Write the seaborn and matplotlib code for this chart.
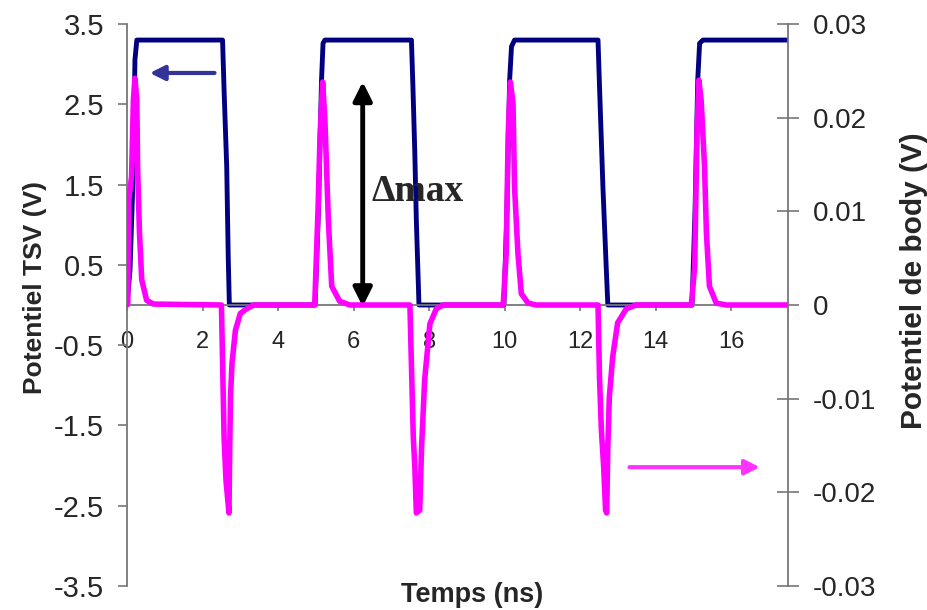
import matplotlib
matplotlib.use("Agg")
from matplotlib import pyplot as plt
import seaborn as sns
import pandas as pd

# TSV potential (left axis, V) vs time (ns)
tsv_time = [0.00, 0.08, 0.17, 0.21, 0.26, 2.53, 2.57, 2.64, 2.68, 2.71,
            4.98, 5.07, 5.15, 5.19, 5.24, 7.53, 7.57, 7.62, 7.66, 7.73,
            9.98, 10.06, 10.13, 10.18, 10.26, 12.47, 12.51, 12.60, 12.69, 12.73,
            14.96, 15.04, 15.11, 15.16, 15.25, 17.50]
tsv_volt = [0.00, 0.44, 1.72, 3.05, 3.30, 3.30, 2.68, 1.72, 0.60, 0.00,
            0.00, 1.20, 2.80, 3.26, 3.30, 3.30, 2.72, 1.89, 1.06, 0.00,
            0.00, 1.20, 2.80, 3.22, 3.30, 3.30, 2.72, 1.47, 0.44, 0.00,
            0.00, 1.20, 2.80, 3.26, 3.30, 3.30]

# body potential (right axis, V)
body_time = [0.00, 0.02, 0.04, 0.12, 0.17, 0.21, 0.26, 0.28, 0.33, 0.39, 0.52, 0.70,
             2.50, 2.57, 2.62, 2.70, 2.72, 2.74, 2.78, 2.87, 3.00, 3.17, 3.35,
             4.97, 5.06, 5.11, 5.18, 5.24, 5.33, 5.42, 5.63, 5.90,
             7.49, 7.58, 7.62, 7.66, 7.75, 7.80, 7.88, 8.02, 8.19, 8.37,
             9.96, 10.04, 10.09, 10.15, 10.22, 10.26, 10.35, 10.44, 10.62, 10.84,
             12.47, 12.51, 12.56, 12.62, 12.67, 12.70, 12.73, 12.77, 12.86, 12.99, 13.22, 13.48,
             14.94, 15.03, 15.09, 15.14, 15.20, 15.29, 15.34, 15.42, 15.60, 15.87, 17.50]
body_volt = [0.0, 0.0002, 0.0110, 0.0137, 0.0219, 0.0242, 0.0219, 0.0148, 0.0077, 0.0027, 0.0005, 0.0001,
             0.0, -0.0141, -0.0187, -0.0222, -0.0151, -0.0098, -0.0062, -0.0027, -0.0009, -0.0004, 0.0,
             0.0, 0.0105, 0.0180, 0.0238, 0.0197, 0.0091, 0.0020, 0.0004, 0.0,
             0.0, -0.0142, -0.0172, -0.0222, -0.0219, -0.0151, -0.0080, -0.0020, -0.0004, 0.0,
             0.0, 0.0055, 0.0180, 0.0238, 0.0215, 0.0126, 0.0055, 0.0012, 0.0002, 0.0,
             0.0, -0.0078, -0.0134, -0.0173, -0.0219, -0.0222, -0.0151, -0.0098, -0.0055, -0.0019, -0.0004, 0.0,
             0.0, 0.0041, 0.0183, 0.0240, 0.0219, 0.0148, 0.0077, 0.0020, 0.0002, 0.0, 0.0]

x_ticks = [0, 2, 4, 6, 8, 10, 12, 14, 16]
left_ticks = [-3.5, -2.5, -1.5, -0.5, 0.5, 1.5, 2.5, 3.5]
left_labels = ['-3.5', '-2.5', '-1.5', '-0.5', '0.5', '1.5', '2.5', '3.5']
right_ticks = [-0.03, -0.02, -0.01, 0, 0.01, 0.02, 0.03]
right_labels = ['-0.03', '-0.02', '-0.01', '0', '0.01', '0.02', '0.03']

tsv = pd.DataFrame({'t': tsv_time, 'v': tsv_volt})
body = pd.DataFrame({'t': body_time, 'v': body_volt})

sns.set_style("white")
plt.rcParams['font.family'] = ['Liberation Sans', 'DejaVu Sans']

spine_col = '#777777'
fig = plt.figure(figsize=(9.28, 6.10), dpi=100)
ax1 = fig.add_axes([127/928, 1 - 586/610, 661/928, 562/610])
ax2 = ax1.twinx()

sns.lineplot(data=tsv, x='t', y='v', ax=ax1, color='#000080', linewidth=3.5,
             sort=False, estimator=None)
sns.lineplot(data=body, x='t', y='v', ax=ax2, color='#FF00FF', linewidth=4,
             sort=False, estimator=None)

ax1.set_xlim(0, 17.5)
ax1.set_ylim(-3.5, 3.5)
ax2.set_ylim(-0.03, 0.03)

# left axis, x axis crossing at 0
for s in ['top', 'right']:
    ax1.spines[s].set_visible(False)
ax1.spines['bottom'].set_position(('data', 0))
for s in ['left', 'bottom']:
    ax1.spines[s].set_color(spine_col)
    ax1.spines[s].set_linewidth(1.3)
ax1.set_xticks(x_ticks)
ax1.set_xticklabels([str(v) for v in x_ticks])
ax1.set_yticks(left_ticks)
ax1.set_yticklabels(left_labels)
ax1.tick_params(axis='x', direction='out', length=4, width=1.2, color=spine_col,
                pad=15, labelsize=17, bottom=True)
ax1.tick_params(axis='y', direction='out', length=6.5, width=1.2, color=spine_col,
                pad=10, labelsize=21, left=True)

# right axis
for s in ['top', 'left', 'bottom']:
    ax2.spines[s].set_visible(False)
ax2.spines['right'].set_color(spine_col)
ax2.spines['right'].set_linewidth(1.3)
ax2.set_yticks(right_ticks)
ax2.set_yticklabels(right_labels)
ax2.tick_params(axis='y', direction='inout', length=16, width=1.2, color=spine_col,
                pad=10, labelsize=20, right=True)

ax1.set_xlabel('Temps (ns)', fontsize=19.5, fontweight='bold')
ax1.xaxis.set_label_coords(0.522, 0.008)
ax1.set_ylabel('Potentiel TSV (V)', fontsize=19, fontweight='bold')
ax1.yaxis.set_label_coords(-0.121, 0.532)
ax2.set_ylabel('Potentiel de body (V)', fontsize=21.5, fontweight='bold', rotation=90)
ax2.yaxis.set_label_coords(1.169, 0.544)

# annotations
ax1.annotate('', xy=(0.53, 2.89), xytext=(2.39, 2.89),
             arrowprops=dict(arrowstyle='-|>', color='#333399', lw=3, mutation_scale=22))
ax1.annotate('', xy=(16.83, -2.02), xytext=(13.23, -2.02),
             arrowprops=dict(arrowstyle='-|>', color='#FF33FF', lw=3, mutation_scale=22))
ax1.annotate('', xy=(6.24, 2.78), xytext=(6.24, -0.02),
             arrowprops=dict(arrowstyle='<|-|>', color='black', lw=3.5, mutation_scale=28,
                             shrinkA=0, shrinkB=0))
ax1.text(6.47, 1.29, '\u0394max', fontsize=27, fontweight='bold', va='baseline', ha='left',
         family=['Liberation Serif', 'DejaVu Serif'])

plt.savefig('out.png', dpi=100)
